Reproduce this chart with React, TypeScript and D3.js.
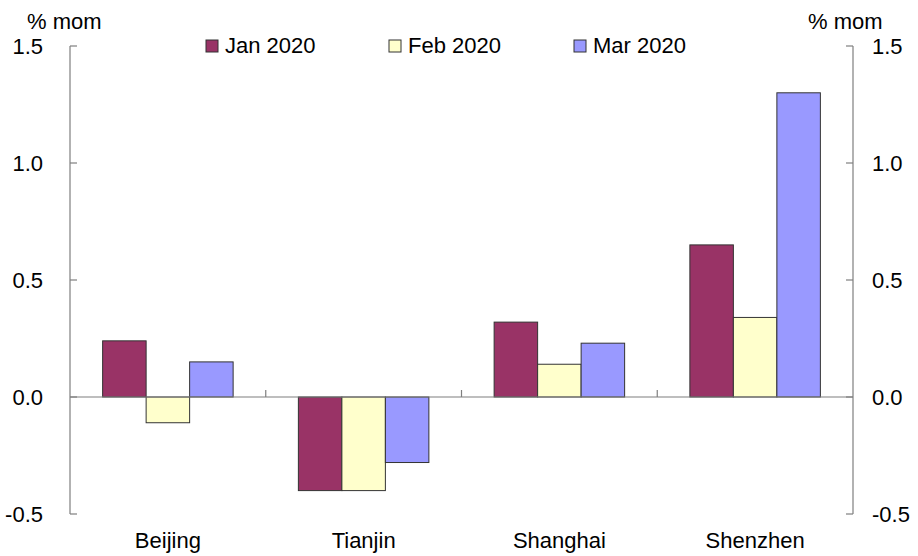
import React from 'react'
import * as d3 from 'd3'

const cities = ['Beijing', 'Tianjin', 'Shanghai', 'Shenzhen']
const seriesNames = ['Jan 2020', 'Feb 2020', 'Mar 2020']
const jan2020 = [0.24, -0.4, 0.32, 0.65]
const feb2020 = [-0.11, -0.4, 0.14, 0.34]
const mar2020 = [0.15, -0.28, 0.23, 1.3]
const yTicks = [-0.5, 0.0, 0.5, 1.0, 1.5]

const COLORS = ['#993366', '#FFFFCC', '#9999FF']
const FONT = '"Liberation Sans", Arial, sans-serif'

const W = 918
const H = 556
const margin = { top: 46, right: 65, bottom: 42, left: 70 }

export default function App() {
  const values = [jan2020, feb2020, mar2020]

  const x0 = d3.scaleBand<string>()
    .domain(cities)
    .range([margin.left, W - margin.right])
    .padding(0)

  // Excel-like gap width 150%: bar = band / 4.5
  const x1 = d3.scaleBand<string>()
    .domain(seriesNames)
    .range([0, x0.bandwidth()])
    .paddingInner(0)
    .paddingOuter(0.75)

  const y = d3.scaleLinear()
    .domain([-0.5, 1.5])
    .range([H - margin.bottom, margin.top])

  // plain hyphen for negatives, as in the original
  const fmt = (t: number) => d3.format('.1f')(t).replace('\u2212', '-')
  const axisColor = '#7f7f7f'
  const xL = margin.left
  const xR = W - margin.right
  const y0 = y(0)

  const legendX = [206, 389, 574]

  return (
    <div style={{ position: 'absolute', left: 0, top: 0 }}>
      <svg width={W} height={H} style={{ display: 'block', background: '#fff' }}>
        {/* bars */}
        {cities.map((c, ci) => (
          <g key={c} transform={`translate(${x0(c)},0)`}>
            {seriesNames.map((s, si) => {
              const v = values[si][ci]
              return (
                <rect
                  key={s}
                  x={x1(s)}
                  y={Math.min(y(v), y0)}
                  width={x1.bandwidth()}
                  height={Math.abs(y(v) - y0)}
                  fill={COLORS[si]}
                  stroke="#333"
                  strokeWidth={1}
                />
              )
            })}
          </g>
        ))}

        {/* zero line with category ticks */}
        <line x1={xL} x2={xR} y1={y0} y2={y0} stroke={axisColor} strokeWidth={1.2} />
        {cities.slice(1).map(c => (
          <line key={c} x1={x0(c)} x2={x0(c)} y1={y0} y2={y0 - 7} stroke={axisColor} strokeWidth={1.2} />
        ))}

        {/* left axis */}
        <line x1={xL} x2={xL} y1={y(1.5)} y2={y(-0.5)} stroke={axisColor} strokeWidth={1.2} />
        {yTicks.map(t => (
          <g key={`l${t}`}>
            <line x1={xL} x2={xL + 7} y1={y(t)} y2={y(t)} stroke={axisColor} strokeWidth={1.2} />
            <text x={43} y={y(t)} dy="0.35em" textAnchor="end" fontFamily={FONT} fontSize={22} fill="#000">
              {fmt(t)}
            </text>
          </g>
        ))}

        {/* right axis */}
        <line x1={xR} x2={xR} y1={y(1.5)} y2={y(-0.5)} stroke={axisColor} strokeWidth={1.2} />
        {yTicks.map(t => (
          <g key={`r${t}`}>
            <line x1={xR - 7} x2={xR} y1={y(t)} y2={y(t)} stroke={axisColor} strokeWidth={1.2} />
            <text x={872} y={y(t)} dy="0.35em" textAnchor="start" fontFamily={FONT} fontSize={22} fill="#000">
              {fmt(t)}
            </text>
          </g>
        ))}

        {/* unit labels */}
        <text x={27} y={29} fontFamily={FONT} fontSize={22} fill="#000">% mom</text>
        <text x={808} y={29} fontFamily={FONT} fontSize={22} fill="#000">% mom</text>

        {/* category labels */}
        {cities.map(c => (
          <text
            key={c}
            x={(x0(c) ?? 0) + x0.bandwidth() / 2}
            y={548}
            textAnchor="middle"
            fontFamily={FONT}
            fontSize={22}
            fill="#000"
          >
            {c}
          </text>
        ))}

        {/* legend */}
        {seriesNames.map((s, i) => (
          <g key={s} transform={`translate(${legendX[i]},40)`}>
            <rect x={0} y={0} width={12} height={12} fill={COLORS[i]} stroke="#333" strokeWidth={1} />
            <text x={19} y={13} fontFamily={FONT} fontSize={22} fill="#000">{s}</text>
          </g>
        ))}
      </svg>
    </div>
  )
}
